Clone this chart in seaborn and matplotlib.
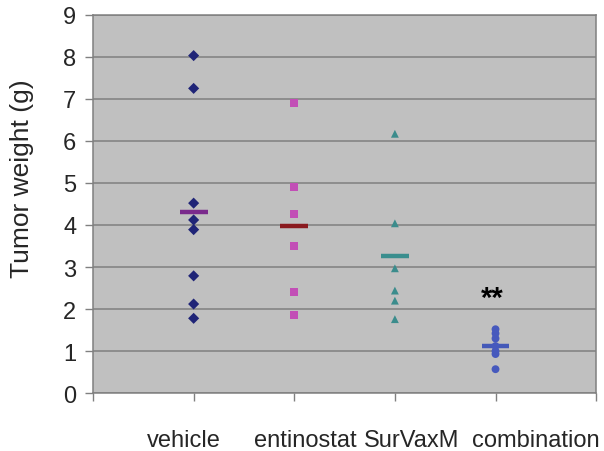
import numpy as np
import pandas as pd
import matplotlib
matplotlib.use("Agg")
import matplotlib.pyplot as plt
import seaborn as sns

# values (tumor weight, g)
groups = ["vehicle", "entinostat", "SurVaxM", "combination"]
vehicle = [8.03, 7.25, 4.52, 4.12, 3.89, 2.79, 2.12, 1.78]
entinostat = [6.90, 4.91, 4.26, 3.51, 2.41, 1.86]
survaxm = [6.17, 4.04, 2.97, 2.44, 2.20, 1.76]
combination = [1.52, 1.42, 1.30, 1.12, 1.00, 0.93, 0.57]
y_ticks = [0, 1, 2, 3, 4, 5, 6, 7, 8, 9]
signif = "**"

# styles
point_colors = {"vehicle": "#1f2477", "entinostat": "#c24fb6",
                "SurVaxM": "#3b8c8c", "combination": "#4659bd"}
mean_colors = {"vehicle": "#7a2a8c", "entinostat": "#8a1a1f",
               "SurVaxM": "#3a8e8e", "combination": "#4459b8"}
markers = {"vehicle": "D", "entinostat": "s", "SurVaxM": "^", "combination": "o"}
label_x = [0.905, 2.11, 3.17, 4.40]  # where the category names sit under the axis

sns.set_theme(style="white")
plt.rcParams["font.family"] = ["Liberation Sans", "DejaVu Sans"]

values = [vehicle, entinostat, survaxm, combination]
df = pd.DataFrame({
    "group": np.repeat(groups, [len(v) for v in values]),
    "weight": np.concatenate(values),
})
df["pos"] = df["group"].map({g: i + 1 for i, g in enumerate(groups)})
means = df.groupby("group", sort=False).agg(pos=("pos", "first"), weight=("weight", "mean")).reset_index()

fig = plt.figure(figsize=(6.04, 4.52), dpi=100)
ax = fig.add_axes([0.154, 0.128, 0.833, 0.837])
ax.set_facecolor("#c0c0c0")

sns.scatterplot(data=means, x="pos", y="weight", hue="group", palette=mean_colors,
                marker="_", s=20 ** 2, linewidth=3.2, legend=False, ax=ax, zorder=3)
sns.scatterplot(data=df, x="pos", y="weight", hue="group", style="group",
                palette=point_colors, markers=markers, s=32, linewidth=0,
                legend=False, ax=ax, zorder=4)

ax.text(3.97, 2.27, signif, ha="center", va="center", fontsize=21, fontweight="bold", color="black")

ax.set_xlim(0, 5)
ax.set_ylim(0, 9)
ax.set_yticks(y_ticks)
ax.set_xticks(range(6))
ax.set_xticklabels([])
ax.yaxis.grid(True, color="#808080", linewidth=1.1)
ax.set_axisbelow(True)
ax.tick_params(axis="y", which="both", left=True, length=6, width=1, color="#808080",
               labelsize=17, pad=6)
ax.tick_params(axis="x", which="both", bottom=True, length=6, width=1, color="#808080")
for s in ax.spines.values():
    s.set_color("#808080")
    s.set_linewidth(1.1)

for name, x in zip(groups, label_x):
    ax.text(x, -0.125, name, transform=ax.get_xaxis_transform(), ha="center",
            va="center", fontsize=17)

ax.set_xlabel("")
ax.set_ylabel("Tumor weight (g)", fontsize=19, va="center")
ax.yaxis.set_label_coords(-0.141, 0.57)

fig.savefig("out.png", dpi=100)
